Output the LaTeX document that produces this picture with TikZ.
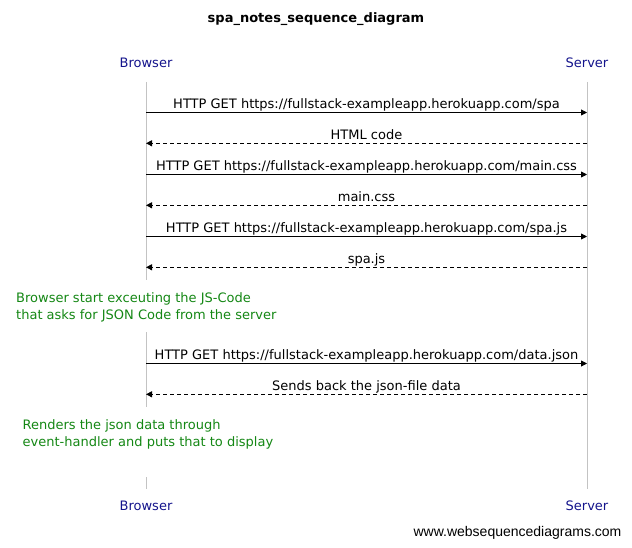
\documentclass[tikz,border=0pt]{standalone}
\usepackage{fontspec}
\setmainfont{DejaVu Sans}
\newfontfamily\footfont{Liberation Sans}
\usetikzlibrary{arrows.meta}
\usetikzlibrary{positioning}

\definecolor{actorblue}{RGB}{20,20,140}
\definecolor{lifegray}{RGB}{195,195,195}
\definecolor{notegreen}{RGB}{20,135,20}

\tikzset{
  actor/.style={text=actorblue,font=\fontsize{13bp}{15bp}\selectfont,inner sep=0pt},
  lifeline/.style={draw=lifegray,line width=1bp},
  msg/.style={-{Triangle[length=6bp,width=6bp]},line width=0.9bp},
  reply/.style={msg,dash pattern=on 4bp off 3bp},
  msglabel/.style={above,inner sep=0pt,yshift=1bp,text height=9.5bp,text depth=2.5bp,font=\fontsize{13bp}{15bp}\selectfont},
  notetext/.style={text=notegreen,align=left,anchor=base west,inner sep=0pt,font=\fontsize{13bp}{17bp}\selectfont}
}

\begin{document}
\begin{tikzpicture}[line cap=butt,line join=round,x=1bp,y=-1bp]
\useasboundingbox (0,0) rectangle (632,548);
% title and participants
\node[font=\bfseries\fontsize{13bp}{15bp}\selectfont] (title) at (316,19) {spa\_notes\_sequence\_diagram};
\node[actor] (browserTop) at (146,63) {Browser};
\node[actor] (serverTop) at (587,63) {Server};
\node[actor] (browserBot) at (146,506) {Browser};
\node[actor] (serverBot) at (587,506) {Server};
% lifelines
\draw[lifeline] (146,82) -- (146,280);
\draw[lifeline] (146,332) -- (146,407);
\draw[lifeline] (146,477) -- (146,489);
\draw[lifeline] (587,82) -- (587,489);
% message end points
\foreach \i/\y in {1/112.5,2/143.3,3/174.5,4/205.3,5/236.5,6/267.3,7/363.5,8/394.3}{
  \coordinate (b\i) at (146,\y);
  \coordinate (s\i) at (587,\y);
}
% messages
\draw[msg] (b1) -- node[msglabel] {HTTP GET https://fullstack-exampleapp.herokuapp.com/spa} (s1);
\draw[reply] (s2) -- node[msglabel] {HTML code} (b2);
\draw[msg] (b3) -- node[msglabel] {HTTP GET https://fullstack-exampleapp.herokuapp.com/main.css} (s3);
\draw[reply] (s4) -- node[msglabel] {main.css} (b4);
\draw[msg] (b5) -- node[msglabel] {HTTP GET https://fullstack-exampleapp.herokuapp.com/spa.js} (s5);
\draw[reply] (s6) -- node[msglabel] {spa.js} (b6);
\draw[msg] (b7) -- node[msglabel] {HTTP GET https://fullstack-exampleapp.herokuapp.com/data.json} (s7);
\draw[reply] (s8) -- node[msglabel] {Sends back the json-file data} (b8);
% notes (base is the last line)
\node[notetext] (jsnote) at (16,319) {Browser start exceuting the JS-Code\\that asks for JSON Code from the server};
\node[notetext] (rendernote) at (22.5,446) {Renders the json data through\\event-handler and puts that to display};
% footer
\node[font=\footfont\fontsize{14bp}{16bp}\selectfont,inner sep=0pt] (footer) at (517.5,533) {www.websequencediagrams.com};
\end{tikzpicture}
\end{document}
